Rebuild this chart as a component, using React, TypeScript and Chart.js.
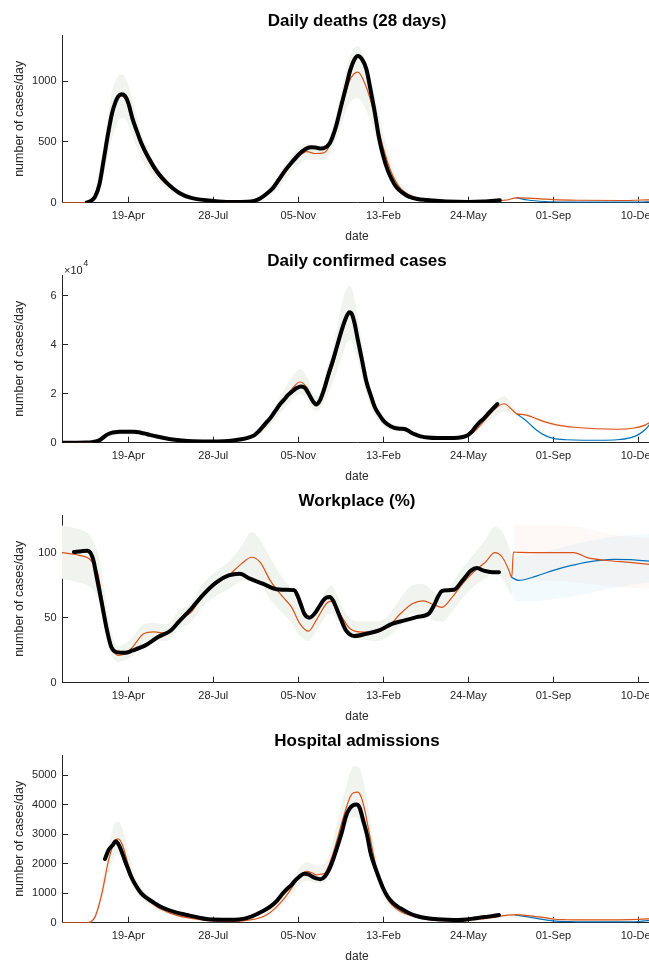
import React, { useEffect, useRef } from 'react';
import { Chart, registerables } from 'chart.js';
Chart.register(...registerables);

const FONT = "'Liberation Sans', Arial, Helvetica, sans-serif";
const ORANGE = '#D95319';
const BLUE = '#0072BD';
const AXIS = '#262626';
const GREY_BAND = '#F1F3EE';
const ORANGE_BAND = 'rgba(217,83,25,0.04)';
const BLUE_BAND = 'rgba(0,160,230,0.05)';

// x axis: days since 19-Apr-2020
const X_MIN = -78;
const X_MAX = 616;
const xTickDays = [0, 100, 200, 300, 400, 500, 600];
const xTickLabels = ['19-Apr', '28-Jul', '05-Nov', '13-Feb', '24-May', '01-Sep', '10-Dec'];

// ---------- Daily deaths ----------
const deathsDataDays = [-49, -44, -39, -34, -29, -24, -19, -15, -12, -8, -4, 0, 5, 10, 15, 20, 25, 30, 35, 45, 60, 74, 100, 120, 140, 148, 155, 162, 170, 177, 185, 192, 200, 205, 210, 215, 220, 225, 230, 237, 244, 251, 256, 261, 266, 270, 275, 280, 286, 290, 295, 300, 305, 310, 315, 322, 330, 340, 350, 374, 400, 418, 437];
const deathsData = [0, 15, 50, 150, 350, 560, 740, 830, 873, 893, 880, 820, 690, 590, 495, 420, 355, 295, 245, 165, 80, 40, 15, 6, 8, 15, 35, 70, 120, 190, 270, 330, 393, 425, 447, 456, 455, 446, 450, 490, 620, 815, 950, 1090, 1180, 1208, 1180, 1100, 890, 740, 530, 380, 270, 190, 132, 85, 50, 30, 22, 10, 6, 10, 20];
const deathsModelDays = [-78, -55, -48, -40, -33, -27, -20, -14, -9, -4, 2, 8, 15, 25, 35, 45, 60, 75, 100, 130, 150, 160, 170, 180, 190, 200, 210, 220, 230, 240, 250, 260, 270, 280, 290, 300, 310, 320, 335, 350, 375, 400, 430, 445, 457, 470, 485, 500, 530, 580, 616];
const deathsModel = [0, 0, 5, 50, 200, 420, 700, 840, 880, 860, 760, 620, 470, 330, 225, 150, 75, 35, 12, 6, 20, 50, 110, 200, 300, 380, 420, 405, 410, 520, 760, 1000, 1075, 950, 720, 450, 240, 120, 50, 22, 10, 8, 14, 22, 40, 38, 32, 25, 20, 18, 25];
const deathsBandHi = [0, 2, 15, 90, 290, 560, 880, 1020, 1055, 1030, 920, 760, 580, 410, 285, 190, 100, 50, 20, 10, 30, 70, 150, 260, 370, 450, 485, 470, 470, 610, 900, 1190, 1290, 1150, 880, 570, 310, 160, 70, 32, 15, 12, 20, 30, 48, 45, 38, 30, 24, 22, 30];
const deathsBandLo = [0, 0, 0, 20, 120, 290, 510, 640, 695, 690, 610, 490, 370, 260, 175, 115, 55, 25, 7, 3, 12, 35, 80, 150, 235, 310, 355, 350, 355, 440, 630, 820, 860, 760, 570, 350, 180, 90, 35, 15, 6, 5, 9, 15, 32, 30, 26, 20, 16, 14, 20];
const deathsProjDays = [457, 470, 490, 520, 560, 600, 616];
const deathsProj = [40, 22, 10, 5, 4, 5, 8];
const deathsYTicks = [0, 500, 1000];
const deathsYLabels = ['0', '500', '1000'];

// ---------- Daily confirmed cases ----------
const casesDataDays = [-78, -60, -50, -43, -38, -34, -30, -25, -20, -15, -10, -5, 0, 5, 10, 15, 20, 25, 35, 45, 55, 70, 94, 113, 123, 133, 143, 148, 153, 158, 163, 168, 173, 178, 183, 188, 193, 198, 203, 208, 213, 218, 221, 225, 230, 236, 241, 246, 251, 256, 260, 263, 266, 270, 275, 280, 285, 290, 295, 300, 305, 312, 320, 326, 332, 338, 344, 352, 364, 376, 388, 398, 404, 408, 413, 418, 423, 428, 434];
const casesData = [0, 0, 50, 200, 500, 1000, 2000, 3300, 4000, 4300, 4450, 4500, 4500, 4450, 4350, 4100, 3700, 3200, 2400, 1700, 1200, 700, 500, 600, 900, 1400, 2300, 3000, 4500, 6500, 8500, 10500, 13000, 15500, 17500, 19500, 21000, 22300, 23000, 22300, 19500, 16500, 15600, 17000, 21500, 28500, 34000, 40000, 46000, 51000, 53300, 52500, 49000, 42000, 33500, 25000, 19500, 14500, 11500, 9000, 7500, 6200, 5700, 5500, 4300, 3300, 2600, 2100, 1900, 1900, 2000, 2800, 4500, 6300, 8300, 9800, 11800, 13600, 15800];
const casesModelDays = [-78, -50, -40, -30, -20, -10, 0, 10, 20, 30, 45, 60, 80, 100, 120, 135, 145, 155, 165, 175, 185, 195, 202, 210, 217, 222, 228, 235, 242, 250, 256, 261, 266, 272, 280, 290, 300, 310, 320, 335, 350, 370, 390, 405, 420, 432, 442, 450, 457, 465, 475, 490, 505, 525, 550, 575, 595, 608, 616];
const casesModel = [0, 30, 600, 2200, 3700, 4300, 4300, 4100, 3500, 2700, 1700, 1100, 650, 500, 650, 1200, 2200, 4500, 8500, 13500, 18500, 23000, 24800, 22500, 17500, 16200, 19000, 26000, 33000, 44000, 50500, 53000, 48500, 39000, 25000, 14000, 8800, 6500, 5700, 3800, 2400, 1900, 2000, 4000, 9500, 14000, 15900, 14000, 11800, 11500, 10500, 8500, 7200, 6300, 5700, 5500, 6000, 7200, 8800];
const casesBandDays = [-78, -50, -40, -30, -20, -10, 0, 10, 20, 30, 45, 60, 80, 100, 120, 135, 145, 155, 165, 175, 185, 195, 202, 210, 217, 222, 228, 235, 242, 250, 256, 261, 266, 272, 280, 290, 300, 310, 320, 335, 350, 370, 390, 405, 420, 432, 442, 450];
const casesBandHi = [0, 100, 1000, 3000, 4800, 5600, 5600, 5300, 4500, 3500, 2200, 1450, 900, 700, 900, 1600, 2900, 5800, 10500, 16500, 22500, 28000, 30000, 27000, 20500, 19000, 23000, 32000, 41000, 55000, 62500, 64000, 59000, 47000, 30000, 17000, 10500, 7800, 6800, 4600, 2900, 2300, 2500, 5000, 11500, 17000, 19000, 16500];
const casesBandLo = [0, 0, 300, 1500, 2800, 3300, 3300, 3100, 2600, 2000, 1250, 800, 450, 350, 450, 850, 1600, 3300, 6500, 10500, 14500, 18500, 19800, 17500, 13800, 13000, 15000, 20000, 26000, 34000, 40000, 42000, 38000, 31000, 20000, 11000, 7000, 5200, 4600, 3000, 1900, 1500, 1600, 3100, 7500, 11000, 12800, 11500];
const casesModelBandDays = [450, 457, 465, 475, 490, 505, 525, 550, 575, 595, 608, 616];
const casesModelBandHi = [16500, 13300, 13000, 12000, 9800, 8300, 7200, 6500, 6300, 6800, 8000, 9600];
const casesModelBandLo = [11500, 10500, 10200, 9200, 7400, 6300, 5500, 5000, 4800, 5300, 6500, 8000];
const casesProjDays = [457, 465, 472, 480, 490, 500, 515, 535, 555, 575, 590, 600, 609, 616];
const casesProj = [11800, 9800, 7700, 5200, 3000, 1800, 1200, 1000, 1000, 1200, 2000, 3300, 5700, 8800];
const casesYTicks = [0, 20000, 40000, 60000];
const casesYLabels = ['0', '2', '4', '6'];

// ---------- Workplace (%) ----------
const workDataDays = [-64, -55, -48, -44, -41, -38, -35, -31, -28, -25, -20, -14, -4, 5, 20, 35, 50, 59, 74, 89, 104, 118, 131, 143, 158, 172, 185, 195, 199, 203, 207, 213, 219, 225, 229, 233, 237, 241, 245, 249, 256, 266, 280, 295, 310, 325, 339, 354, 360, 364, 368, 371, 383, 393, 403, 410, 418, 428, 436];
const workData = [100.5, 101.2, 101.5, 99.3, 94, 84, 74, 60.7, 50, 40, 27.4, 23.5, 23, 24.8, 28.7, 35.1, 40.2, 46.6, 56.9, 68.4, 77.4, 82.5, 83.8, 80, 76.2, 72.3, 71.5, 71.2, 67, 60, 53, 50, 53, 59, 63, 65.5, 66, 63, 57, 50.5, 40.2, 35.9, 37.6, 40.2, 45.3, 47.9, 50.4, 53.5, 60, 65.8, 70, 71, 71.5, 78.5, 86.2, 88.2, 86.2, 85, 85];
const workModelDays = [-78, -58, -44, -36, -29, -22, -12, -4, 5, 18, 30, 45, 59, 74, 89, 104, 118, 133, 145, 155, 167, 182, 192, 202, 212, 221, 234, 239, 244, 249, 261, 276, 290, 305, 320, 334, 347, 359, 369, 381, 393, 408, 420, 431, 440, 448, 451, 453, 460, 490, 524, 540, 563, 590, 616];
const workModel = [100, 98, 94, 84, 58, 32.5, 21, 22, 27.4, 37.6, 39.1, 38, 48, 54.3, 68.4, 76.2, 82.5, 91.4, 96.5, 92.7, 78.5, 65.8, 58.1, 45.3, 39.6, 48, 61.5, 62.5, 59, 53, 41.5, 38.9, 38.9, 42.7, 53, 60.7, 63, 60, 58, 65.8, 76, 86.2, 92.7, 100, 96.5, 86, 81, 100.5, 100.2, 100, 100, 96.2, 94, 92.5, 90.8];
const workBandDays = [-78, -58, -44, -36, -29, -22, -12, -4, 5, 18, 30, 45, 59, 74, 89, 104, 118, 133, 145, 155, 167, 182, 192, 202, 212, 221, 234, 239, 244, 249, 261, 276, 290, 305, 320, 334, 347, 359, 369, 381, 393, 408, 420, 431, 440, 448, 451];
const workBandHi = [121, 118, 112, 100, 75, 45, 28, 30, 35, 45, 46, 45, 55, 62, 77, 86, 93, 105, 116, 110, 96, 80, 72, 55, 48, 56, 72, 75, 70, 62, 49, 47, 47, 51, 65, 75, 76, 70, 67, 76, 88, 100, 110, 120, 116, 104, 97];
const workBandLo = [80, 77, 73, 65, 45, 25, 16, 17, 21, 31, 33, 32, 41, 47, 60, 67, 72, 78, 79, 77, 64, 53, 46, 36, 32, 40, 52, 53, 50, 45, 35, 33, 32, 35, 44, 53, 53, 48, 47, 55, 65, 75, 80, 85, 80, 70, 66];
const workModelBandDays = [453, 490, 524, 540, 563, 590, 616];
const workModelBandHi = [121, 121, 120.5, 118.5, 115, 112.5, 111];
const workModelBandLo = [79, 78.5, 77.5, 76, 74.5, 73, 72.3];
const workProjDays = [451, 459, 480, 500, 520, 540, 571, 595, 616];
const workProj = [81, 78.7, 82, 86.4, 90, 92.8, 94.8, 94.5, 93.3];
const workProjBandDays = [451, 455, 470, 490, 520, 550, 580, 616];
const workProjBandHi = [88, 95.6, 98, 101, 106, 110, 113, 114.6];
const workProjBandLo = [72, 63, 62.5, 63.5, 66, 70, 74, 77.4];
const workYTicks = [0, 50, 100];
const workYLabels = ['0', '50', '100'];

// ---------- Hospital admissions ----------
const hospDataDays = [-27.5, -23, -18, -15, -12, -9, -4, 0, 3, 8, 15, 22, 30, 37, 45, 57, 69, 82, 94, 118, 130, 138, 146, 153, 160, 167, 175, 182, 187, 192, 197, 202, 207, 212, 216, 221, 226, 231, 236, 241, 246, 251, 256, 260, 264, 268, 272, 276, 281, 285, 290, 295, 300, 305, 312, 320, 330, 339, 352, 364, 376, 388, 398, 408, 415, 423, 430, 436];
const hospData = [2156, 2469, 2643, 2755, 2680, 2500, 2100, 1800, 1580, 1300, 1000, 830, 680, 560, 456, 340, 262, 180, 116, 99, 110, 145, 220, 316, 420, 544, 750, 1000, 1150, 1283, 1450, 1580, 1656, 1640, 1565, 1500, 1475, 1560, 1790, 2150, 2585, 3050, 3605, 3850, 3968, 4000, 3900, 3492, 2950, 2359, 1900, 1508, 1150, 884, 650, 488, 330, 228, 150, 116, 100, 93, 110, 150, 180, 206, 235, 262];
const hospModelDays = [-78, -50, -44, -39, -35, -31, -27.5, -24, -20, -17, -12, -7, 0.5, 5, 10, 17, 25, 35, 45, 57, 69, 82, 94, 108, 123, 135, 143, 153, 162.5, 172, 182, 190, 197, 204, 210, 216, 221, 226, 231, 236, 241, 246, 251, 256, 261, 265, 270, 274, 278, 283, 288, 293, 298, 304, 310, 320, 330, 342, 354, 366, 379, 391, 403, 416, 428, 440, 452, 460, 470, 480, 490, 501, 515, 536, 560, 575, 600, 616];
const hospModel = [0, 0, 30, 206, 550, 1000, 1500, 2020, 2450, 2700, 2836, 2643, 1905, 1550, 1224, 950, 714, 510, 374, 250, 170, 110, 68, 50, 45, 60, 93, 150, 262, 470, 771, 1080, 1395, 1650, 1740, 1690, 1622, 1640, 1678, 1950, 2359, 2850, 3379, 3850, 4264, 4400, 4422, 4250, 3832, 3100, 2359, 1700, 1224, 850, 601, 380, 262, 160, 93, 70, 57, 65, 93, 130, 170, 230, 262, 265, 240, 206, 170, 116, 100, 93, 93, 95, 110, 138];
const hospBandHi = [0, 0, 50, 300, 750, 1300, 1900, 2500, 3000, 3300, 3420, 3200, 2300, 1850, 1450, 1120, 840, 600, 440, 300, 205, 135, 85, 62, 56, 75, 115, 185, 320, 570, 930, 1300, 1650, 1950, 2060, 2000, 1930, 1950, 2000, 2300, 2800, 3400, 4050, 4600, 5100, 5300, 5300, 5100, 4600, 3700, 2800, 2050, 1480, 1030, 730, 460, 320, 195, 115, 88, 72, 82, 115, 160, 205, 275, 315, 318, 290, 250, 205, 145, 125, 115, 115, 118, 135, 170];
const hospBandLo = [0, 0, 15, 120, 380, 750, 1150, 1600, 1950, 2200, 2300, 2150, 1550, 1260, 1000, 780, 590, 420, 310, 205, 140, 90, 55, 40, 36, 48, 75, 120, 210, 380, 620, 870, 1130, 1350, 1420, 1380, 1330, 1350, 1380, 1620, 1950, 2350, 2800, 3200, 3500, 3580, 3550, 3400, 3100, 2550, 1950, 1400, 1000, 700, 490, 310, 210, 130, 75, 56, 46, 52, 75, 105, 138, 188, 215, 218, 196, 168, 138, 94, 80, 75, 75, 76, 88, 110];
const hospProjDays = [455, 470, 487, 500, 520, 550, 580, 600, 616];
const hospProj = [262, 200, 110, 60, 35, 25, 25, 40, 90];
const hospYTicks = [0, 1000, 2000, 3000, 4000, 5000];
const hospYLabels = ['0', '1000', '2000', '3000', '4000', '5000'];

type Band = { days: number[]; hi: number[]; lo: number[]; color: string };
type PanelDef = {
  title: string;
  yMax: number;
  yTicks: number[];
  yLabels: string[];
  dataDays: number[];
  data: number[];
  modelDays: number[];
  model: number[];
  projDays: number[];
  proj: number[];
  bands: Band[];
  exponent?: string;
};

const panels: PanelDef[] = [
  {
    title: 'Daily deaths (28 days)', yMax: 1381, yTicks: deathsYTicks, yLabels: deathsYLabels,
    dataDays: deathsDataDays, data: deathsData, modelDays: deathsModelDays, model: deathsModel,
    projDays: deathsProjDays, proj: deathsProj,
    bands: [{ days: deathsModelDays, hi: deathsBandHi, lo: deathsBandLo, color: GREY_BAND }],
  },
  {
    title: 'Daily confirmed cases', yMax: 68500, yTicks: casesYTicks, yLabels: casesYLabels,
    dataDays: casesDataDays, data: casesData, modelDays: casesModelDays, model: casesModel,
    projDays: casesProjDays, proj: casesProj,
    bands: [
      { days: casesBandDays, hi: casesBandHi, lo: casesBandLo, color: GREY_BAND },
      { days: casesModelBandDays, hi: casesModelBandHi, lo: casesModelBandLo, color: ORANGE_BAND },
    ],
    exponent: '4',
  },
  {
    title: 'Workplace (%)', yMax: 129, yTicks: workYTicks, yLabels: workYLabels,
    dataDays: workDataDays, data: workData, modelDays: workModelDays, model: workModel,
    projDays: workProjDays, proj: workProj,
    bands: [
      { days: workBandDays, hi: workBandHi, lo: workBandLo, color: GREY_BAND },
      { days: workModelBandDays, hi: workModelBandHi, lo: workModelBandLo, color: ORANGE_BAND },
      { days: workProjBandDays, hi: workProjBandHi, lo: workProjBandLo, color: BLUE_BAND },
    ],
  },
  {
    title: 'Hospital admissions', yMax: 5680, yTicks: hospYTicks, yLabels: hospYLabels,
    dataDays: hospDataDays, data: hospData, modelDays: hospModelDays, model: hospModel,
    projDays: hospProjDays, proj: hospProj,
    bands: [{ days: hospModelDays, hi: hospBandHi, lo: hospBandLo, color: GREY_BAND }],
  },
];

const CANVAS_W = 700;
const CANVAS_H = 250;
const PANEL_STEP = 240;

function pts(xs: number[], ys: number[]) {
  return xs.map((x, i) => ({ x, y: ys[i] }));
}

function lineDs(xs: number[], ys: number[], color: string, width: number) {
  return {
    data: pts(xs, ys),
    borderColor: color,
    borderWidth: width,
    pointRadius: 0,
    fill: false,
    cubicInterpolationMode: 'monotone' as const,
    borderJoinStyle: 'round' as const,
    borderCapStyle: 'round' as const,
  };
}

function makeConfig(p: PanelDef): any {
  const datasets: any[] = [
    lineDs(p.dataDays, p.data, '#000000', 4),
    lineDs(p.modelDays, p.model, ORANGE, 1.2),
    lineDs(p.projDays, p.proj, BLUE, 1.2),
  ];
  p.bands.forEach((b) => {
    datasets.push({
      data: pts(b.days, b.hi), borderWidth: 0, borderColor: 'rgba(0,0,0,0)', pointRadius: 0,
      backgroundColor: b.color, fill: '+1', cubicInterpolationMode: 'monotone',
    });
    datasets.push({
      data: pts(b.days, b.lo), borderWidth: 0, borderColor: 'rgba(0,0,0,0)', pointRadius: 0,
      fill: false, cubicInterpolationMode: 'monotone',
    });
  });

  const exponentPlugin = {
    id: 'exponentLabel',
    afterDraw(chart: any) {
      if (!p.exponent) return;
      const { ctx, chartArea } = chart;
      ctx.save();
      ctx.fillStyle = AXIS;
      ctx.textBaseline = 'alphabetic';
      ctx.textAlign = 'left';
      ctx.font = `11px ${FONT}`;
      ctx.fillText('\u00d710', chartArea.left + 2, chartArea.top - 1.5);
      const w = ctx.measureText('\u00d710').width;
      ctx.font = `9px ${FONT}`;
      ctx.fillText(p.exponent, chartArea.left + 2 + w + 0.5, chartArea.top - 9);
      ctx.restore();
    },
  };

  const gridOpts = {
    display: true,
    drawOnChartArea: false,
    drawTicks: true,
    tickLength: -6,
    tickColor: AXIS,
    tickWidth: 1,
  };

  return {
    type: 'line',
    data: { datasets },
    plugins: [exponentPlugin],
    options: {
      responsive: false,
      animation: false,
      events: [],
      layout: { padding: { left: 0, right: CANVAS_W - 652, top: 0, bottom: 0 } },
      plugins: {
        legend: { display: false },
        tooltip: { enabled: false },
        title: {
          display: true,
          text: p.title,
          fullSize: false,
          color: '#000000',
          font: { family: FONT, size: 17, weight: 'bold', lineHeight: 1.2 },
          padding: { top: 11, bottom: 3.6 },
        },
      },
      scales: {
        x: {
          type: 'linear',
          min: X_MIN,
          max: X_MAX,
          afterBuildTicks: (s: any) => { s.ticks = xTickDays.map((v) => ({ value: v })); },
          afterFit: (s: any) => { s.height = CANVAS_H - 202.7; },
          ticks: {
            callback: (_v: any, i: number) => xTickLabels[i],
            font: { family: FONT, size: 11, lineHeight: 1.2 },
            color: AXIS,
            padding: 12.7,
            maxRotation: 0,
            autoSkip: false,
          },
          grid: gridOpts,
          border: { display: true, color: AXIS, width: 1 },
          title: {
            display: true,
            text: 'date',
            color: AXIS,
            font: { family: FONT, size: 12, lineHeight: 1 },
            padding: { top: 0, bottom: 7.3 },
          },
        },
        y: {
          type: 'linear',
          min: 0,
          max: p.yMax,
          afterBuildTicks: (s: any) => { s.ticks = p.yTicks.map((v) => ({ value: v })); },
          afterFit: (s: any) => { s.width = 62; },
          ticks: {
            callback: (_v: any, i: number) => p.yLabels[i],
            font: { family: FONT, size: 11, lineHeight: 1.2 },
            color: AXIS,
            padding: 11.5,
          },
          grid: gridOpts,
          border: { display: true, color: AXIS, width: 1 },
          title: {
            display: true,
            text: 'number of cases/day',
            color: AXIS,
            font: { family: FONT, size: 12.5, lineHeight: 1 },
            padding: { top: 13.75, bottom: 0 },
          },
        },
      },
    },
  };
}

function PanelChart({ p, top }: { p: PanelDef; top: number }) {
  const ref = useRef<HTMLCanvasElement>(null);
  useEffect(() => {
    if (!ref.current) return;
    const chart = new Chart(ref.current, makeConfig(p));
    return () => chart.destroy();
  }, [p]);
  return (
    <canvas
      ref={ref}
      width={CANVAS_W}
      height={CANVAS_H}
      style={{ position: 'absolute', left: 0, top, display: 'block', width: CANVAS_W, height: CANVAS_H }}
    />
  );
}

export default function App() {
  return (
    <div
      style={{
        position: 'fixed', left: 0, top: 0, width: 649, height: 962,
        overflow: 'hidden', background: '#ffffff',
      }}
    >
      {panels.map((p, i) => (
        <PanelChart key={p.title} p={p} top={i * PANEL_STEP} />
      ))}
    </div>
  );
}
